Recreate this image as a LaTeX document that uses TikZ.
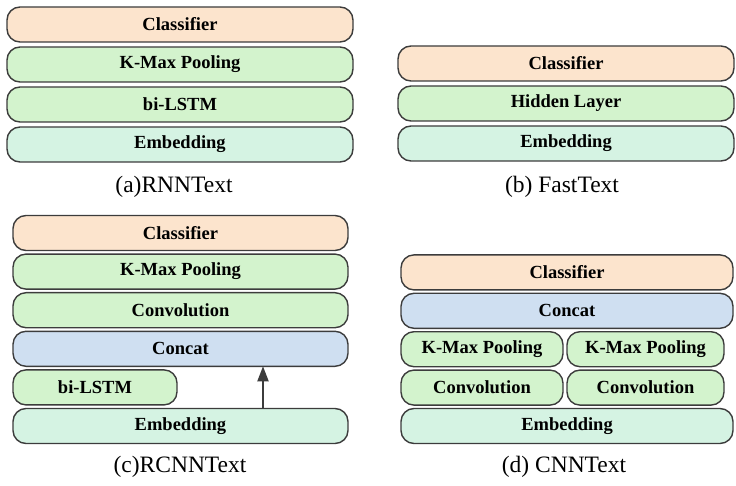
\documentclass[tikz,border=0pt]{standalone}
\usepackage{fontspec}
\setmainfont{Liberation Serif}
\usepackage{xcolor}
\usetikzlibrary{arrows.meta,positioning}
\definecolor{clsfill}{HTML}{FCE4CD}
\definecolor{layfill}{HTML}{D3F3CD}
\definecolor{embfill}{HTML}{D5F3E3}
\definecolor{catfill}{HTML}{CFDFF1}
\definecolor{edgegray}{HTML}{3C3C3C}
\begin{document}
\begin{tikzpicture}[x=1pt, y=-1pt,
      layer/.style={draw=edgegray, line width=1.4pt, rounded corners=13pt,
                    minimum height=35pt, inner sep=0pt, outer sep=0pt,
                    font=\fontsize{18.5}{20}\selectfont\bfseries},
      cls/.style={layer, fill=clsfill},
      hid/.style={layer, fill=layfill},
      emb/.style={layer, fill=embfill},
      cat/.style={layer, fill=catfill},
      subcap/.style={font=\fontsize{23.5}{26}\selectfont},
      arr/.style={-{Triangle[length=15pt,width=11pt]}, line width=2pt, color=edgegray}
  ]
    \useasboundingbox (0,0) rectangle (736,486);
    % (a) RNNText
    \node[emb, minimum width=346pt, anchor=north west] (aemb) at (7,127) {Embedding};
    \node[hid, minimum width=346pt, above=5pt of aemb] (alstm) {bi-LSTM};
    \node[hid, minimum width=346pt, above=5pt of alstm] (akmp) {K-Max Pooling};
    \node[cls, minimum width=346pt, above=5pt of akmp] (acls) {Classifier};
    \node[subcap] (acap) at (174,187) {(a)RNNText};
    % (b) FastText
    \node[emb, minimum width=336pt, anchor=north west] (bemb) at (398,126) {Embedding};
    \node[hid, minimum width=336pt, above=5pt of bemb] (bhid) {Hidden Layer};
    \node[cls, minimum width=336pt, above=5pt of bhid] (bcls) {Classifier};
    \node[subcap] (bcap) at (562,187) {(b) FastText};
    % (c) RCNNText
    \node[emb, minimum width=335pt, anchor=north west] (cemb) at (13,408.5) {Embedding};
    \node[hid, minimum width=164pt, anchor=south west] (clstm) at ([yshift=3.6pt]cemb.north west) {bi-LSTM};
    \node[cat, minimum width=335pt, above=3.6pt of clstm.north west, anchor=south west] (ccat) {Concat};
    \node[hid, minimum width=335pt, above=3.6pt of ccat] (cconv) {Convolution};
    \node[hid, minimum width=335pt, above=3.6pt of cconv] (ckmp) {K-Max Pooling};
    \node[cls, minimum width=335pt, above=3.6pt of ckmp] (ccls) {Classifier};
    \coordinate (cfrom) at (263,0);
    \draw[arr] (cemb.north -| cfrom) -- (ccat.south -| cfrom);
    \node[subcap] (ccap) at (180,467) {(c)RCNNText};
    % (d) CNNText
    \node[emb, minimum width=332pt, anchor=north west] (demb) at (401,408.5) {Embedding};
    \node[hid, minimum width=162pt, anchor=south west] (dconvl) at ([yshift=3.4pt]demb.north west) {Convolution};
    \node[hid, minimum width=157pt, right=4pt of dconvl] (dconvr) {Convolution};
    \node[hid, minimum width=162pt, above=3.4pt of dconvl] (dkmpl) {K-Max Pooling};
    \node[hid, minimum width=157pt, above=3.4pt of dconvr] (dkmpr) {K-Max Pooling};
    \node[cat, minimum width=332pt, above=3.4pt of dkmpl.north west, anchor=south west] (dcat) {Concat};
    \node[cls, minimum width=332pt, above=3.4pt of dcat] (dcls) {Classifier};
    \node[subcap] (dcap) at (564,467) {(d) CNNText};
\end{tikzpicture}
\end{document}
